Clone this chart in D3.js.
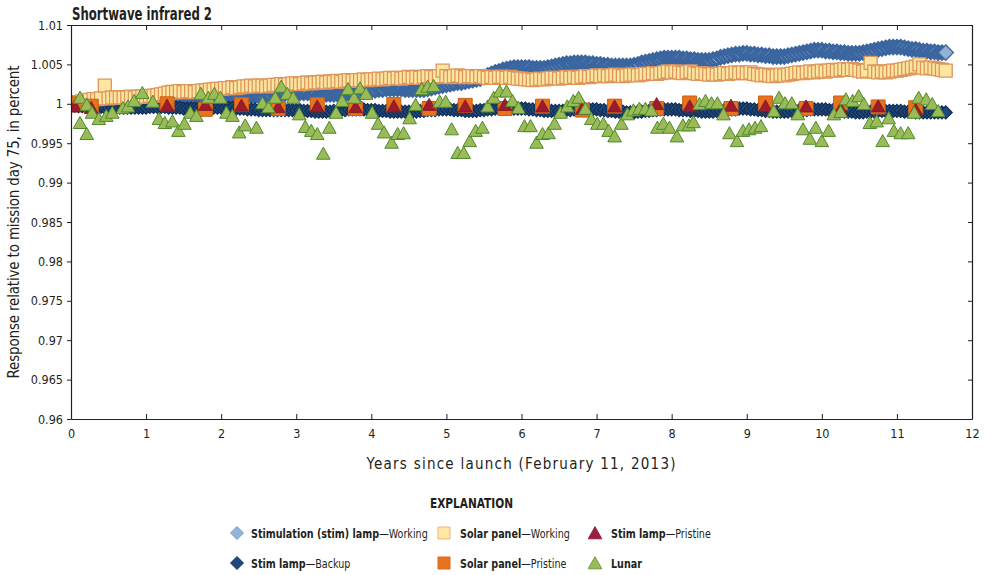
<!DOCTYPE html>
<html>
<head>
<meta charset="utf-8">
<script src="https://cdn.jsdelivr.net/npm/d3@7"></script>
<style>
body { margin: 0; background: #fff; }
text { font-family: 'DejaVu Sans Condensed', 'Liberation Sans', sans-serif; fill: #231f20; }
</style>
</head>
<body>
<script>
// chart values

const xTicks = [0, 1, 2, 3, 4, 5, 6, 7, 8, 9, 10, 11, 12]
const yTicks = [0.96, 0.965, 0.97, 0.975, 0.98, 0.985, 0.99, 0.995, 1, 1.005, 1.01]
const yTickLabels = ["0.96", "0.965", "0.97", "0.975", "0.98", "0.985", "0.99", "0.995", "1", "1.005", "1.01"]

// dense series are sampled every 0.05 year from launch
const denseYears = d3.range(234).map(i => +(i * 0.05).toFixed(2))

const stimWorking = [
    0.9999, 0.9999, 1.0000, 1.0000, 1.0001, 1.0001, 1.0002, 1.0002, 1.0002, 1.0003, 1.0003, 1.0003, 1.0004, 1.0004, 1.0004, 1.0005, 1.0005, 1.0005, 1.0005, 1.0006,
    1.0006, 1.0006, 1.0006, 1.0007, 1.0007, 1.0007, 1.0007, 1.0007, 1.0007, 1.0008, 1.0008, 1.0008, 1.0008, 1.0008, 1.0008, 1.0008, 1.0009, 1.0009, 1.0009, 1.0009,
    1.0009, 1.0009, 1.0009, 1.0009, 1.0009, 1.0009, 1.0010, 1.0010, 1.0010, 1.0010, 1.0010, 1.0010, 1.0011, 1.0011, 1.0012, 1.0012, 1.0013, 1.0013, 1.0014, 1.0014,
    1.0014, 1.0014, 1.0014, 1.0014, 1.0013, 1.0013, 1.0012, 1.0012, 1.0012, 1.0012, 1.0012, 1.0012, 1.0012, 1.0012, 1.0013, 1.0013, 1.0014, 1.0014, 1.0015, 1.0016,
    1.0017, 1.0017, 1.0018, 1.0018, 1.0019, 1.0019, 1.0019, 1.0019, 1.0019, 1.0018, 1.0018, 1.0018, 1.0018, 1.0018, 1.0018, 1.0019, 1.0020, 1.0021, 1.0022, 1.0023,
    1.0024, 1.0025, 1.0026, 1.0027, 1.0027, 1.0028, 1.0029, 1.0030, 1.0031, 1.0032, 1.0034, 1.0036, 1.0038, 1.0040, 1.0041, 1.0043, 1.0044, 1.0045, 1.0046, 1.0046,
    1.0046, 1.0046, 1.0046, 1.0045, 1.0045, 1.0045, 1.0045, 1.0046, 1.0047, 1.0048, 1.0049, 1.0050, 1.0051, 1.0051, 1.0052, 1.0052, 1.0052, 1.0052, 1.0051, 1.0051,
    1.0050, 1.0050, 1.0049, 1.0049, 1.0048, 1.0048, 1.0048, 1.0048, 1.0048, 1.0048, 1.0049, 1.0050, 1.0052, 1.0053, 1.0054, 1.0055, 1.0056, 1.0057, 1.0058, 1.0058,
    1.0058, 1.0058, 1.0058, 1.0057, 1.0057, 1.0056, 1.0056, 1.0055, 1.0055, 1.0055, 1.0055, 1.0056, 1.0057, 1.0059, 1.0060, 1.0061, 1.0062, 1.0063, 1.0063, 1.0064,
    1.0064, 1.0063, 1.0063, 1.0062, 1.0062, 1.0061, 1.0061, 1.0060, 1.0060, 1.0060, 1.0060, 1.0061, 1.0062, 1.0063, 1.0064, 1.0065, 1.0066, 1.0067, 1.0068, 1.0068,
    1.0068, 1.0067, 1.0067, 1.0066, 1.0066, 1.0065, 1.0065, 1.0064, 1.0064, 1.0064, 1.0064, 1.0065, 1.0066, 1.0067, 1.0068, 1.0069, 1.0070, 1.0071, 1.0072, 1.0072,
    1.0072, 1.0072, 1.0071, 1.0070, 1.0069, 1.0069, 1.0068, 1.0067, 1.0067, 1.0066, 1.0066, 1.0065, 1.0065, 1.0065
]

const stimBackup = [
    0.9998, 0.9998, 0.9997, 0.9997, 0.9997, 0.9996, 0.9996, 0.9996, 0.9996, 0.9995, 0.9995, 0.9995, 0.9995, 0.9995, 0.9995, 0.9995, 0.9995, 0.9995, 0.9995, 0.9995,
    0.9995, 0.9996, 0.9996, 0.9996, 0.9996, 0.9996, 0.9995, 0.9995, 0.9995, 0.9995, 0.9994, 0.9994, 0.9994, 0.9994, 0.9994, 0.9994, 0.9994, 0.9995, 0.9995, 0.9995,
    0.9995, 0.9995, 0.9995, 0.9995, 0.9994, 0.9994, 0.9994, 0.9993, 0.9993, 0.9993, 0.9992, 0.9992, 0.9992, 0.9992, 0.9992, 0.9992, 0.9992, 0.9992, 0.9992, 0.9992,
    0.9992, 0.9992, 0.9991, 0.9991, 0.9991, 0.9990, 0.9990, 0.9990, 0.9990, 0.9990, 0.9991, 0.9991, 0.9992, 0.9992, 0.9993, 0.9993, 0.9993, 0.9993, 0.9993, 0.9992,
    0.9992, 0.9992, 0.9991, 0.9991, 0.9991, 0.9990, 0.9990, 0.9990, 0.9990, 0.9990, 0.9990, 0.9990, 0.9990, 0.9991, 0.9991, 0.9992, 0.9992, 0.9992, 0.9993, 0.9993,
    0.9993, 0.9993, 0.9992, 0.9992, 0.9992, 0.9991, 0.9991, 0.9991, 0.9991, 0.9992, 0.9992, 0.9993, 0.9993, 0.9994, 0.9994, 0.9994, 0.9994, 0.9994, 0.9994, 0.9994,
    0.9994, 0.9994, 0.9993, 0.9993, 0.9992, 0.9992, 0.9991, 0.9991, 0.9991, 0.9991, 0.9991, 0.9991, 0.9992, 0.9992, 0.9993, 0.9993, 0.9993, 0.9993, 0.9993, 0.9993,
    0.9993, 0.9992, 0.9992, 0.9991, 0.9991, 0.9990, 0.9990, 0.9990, 0.9989, 0.9989, 0.9989, 0.9990, 0.9990, 0.9991, 0.9991, 0.9992, 0.9992, 0.9993, 0.9993, 0.9993,
    0.9993, 0.9993, 0.9992, 0.9992, 0.9992, 0.9991, 0.9991, 0.9991, 0.9990, 0.9990, 0.9990, 0.9990, 0.9991, 0.9991, 0.9992, 0.9992, 0.9993, 0.9993, 0.9994, 0.9994,
    0.9994, 0.9993, 0.9993, 0.9992, 0.9992, 0.9991, 0.9991, 0.9990, 0.9990, 0.9990, 0.9990, 0.9990, 0.9991, 0.9991, 0.9992, 0.9992, 0.9992, 0.9993, 0.9993, 0.9993,
    0.9993, 0.9993, 0.9992, 0.9992, 0.9991, 0.9991, 0.9990, 0.9990, 0.9990, 0.9989, 0.9989, 0.9989, 0.9990, 0.9990, 0.9990, 0.9991, 0.9991, 0.9991, 0.9991, 0.9991,
    0.9991, 0.9991, 0.9990, 0.9990, 0.9990, 0.9989, 0.9989, 0.9989, 0.9989, 0.9989, 0.9989, 0.9989, 0.9989, 0.9989
]

const solarWorking = [
    0.9998, 1.0000, 1.0002, 1.0003, 1.0004, 1.0005, 1.0006, 1.0006, 1.0007, 1.0023, 1.0007, 1.0008, 1.0008, 1.0008, 1.0008, 1.0008, 1.0009, 1.0008, 1.0009, 1.0009,
    1.0009, 1.0010, 1.0010, 1.0011, 1.0012, 1.0013, 1.0014, 1.0015, 1.0015, 1.0016, 1.0015, 1.0016, 1.0016, 1.0015, 1.0016, 1.0017, 1.0017, 1.0018, 1.0018, 1.0019,
    1.0019, 1.0020, 1.0020, 1.0021, 1.0020, 1.0021, 1.0022, 1.0022, 1.0023, 1.0022, 1.0023, 1.0023, 1.0022, 1.0023, 1.0024, 1.0024, 1.0025, 1.0024, 1.0025, 1.0026,
    1.0026, 1.0025, 1.0026, 1.0027, 1.0026, 1.0027, 1.0027, 1.0028, 1.0027, 1.0028, 1.0028, 1.0029, 1.0028, 1.0029, 1.0030, 1.0029, 1.0030, 1.0030, 1.0031, 1.0030,
    1.0031, 1.0031, 1.0032, 1.0031, 1.0032, 1.0033, 1.0032, 1.0033, 1.0032, 1.0033, 1.0034, 1.0033, 1.0034, 1.0033, 1.0034, 1.0035, 1.0034, 1.0034, 1.0035, 1.0042,
    1.0035, 1.0034, 1.0035, 1.0036, 1.0035, 1.0034, 1.0035, 1.0035, 1.0034, 1.0035, 1.0034, 1.0033, 1.0034, 1.0033, 1.0034, 1.0034, 1.0033, 1.0034, 1.0033, 1.0032,
    1.0032, 1.0031, 1.0031, 1.0030, 1.0031, 1.0032, 1.0031, 1.0032, 1.0033, 1.0033, 1.0032, 1.0033, 1.0034, 1.0033, 1.0034, 1.0033, 1.0034, 1.0035, 1.0034, 1.0035,
    1.0036, 1.0035, 1.0036, 1.0035, 1.0036, 1.0037, 1.0036, 1.0035, 1.0036, 1.0037, 1.0037, 1.0036, 1.0037, 1.0038, 1.0038, 1.0039, 1.0038, 1.0039, 1.0040, 1.0041,
    1.0040, 1.0041, 1.0040, 1.0039, 1.0040, 1.0041, 1.0039, 1.0038, 1.0039, 1.0038, 1.0037, 1.0038, 1.0037, 1.0038, 1.0039, 1.0038, 1.0039, 1.0040, 1.0039, 1.0040,
    1.0039, 1.0040, 1.0038, 1.0037, 1.0036, 1.0037, 1.0036, 1.0035, 1.0036, 1.0037, 1.0036, 1.0037, 1.0038, 1.0039, 1.0040, 1.0039, 1.0040, 1.0041, 1.0040, 1.0041,
    1.0042, 1.0041, 1.0042, 1.0043, 1.0042, 1.0043, 1.0044, 1.0043, 1.0044, 1.0043, 1.0042, 1.0041, 1.0042, 1.0052, 1.0041, 1.0040, 1.0041, 1.0040, 1.0041, 1.0042,
    1.0042, 1.0043, 1.0044, 1.0045, 1.0046, 1.0047, 1.0050, 1.0046, 1.0045, 1.0046, 1.0045, 1.0044, 1.0043, 1.0042
]

const solarPristineYears = [0.05, 0.27, 1.28, 1.79, 2.27, 2.76, 3.28, 3.79, 4.30, 4.77, 5.25, 5.78, 6.28, 6.81, 7.24, 7.80, 8.24, 8.79, 9.25, 9.79, 10.25, 10.75, 11.25]
const solarPristine = [1.0000, 0.9997, 1.0000, 0.9993, 0.9999, 0.9994, 0.9999, 0.9994, 0.9999, 0.9994, 0.9998, 0.9994, 0.9997, 0.9992, 0.9997, 0.9994, 1.0001, 0.9994, 1.0001, 0.9994, 1.0001, 0.9996, 0.9995]

const stimPristineYears = [0.05, 0.27, 1.28, 1.79, 2.27, 2.76, 3.28, 3.79, 4.30, 4.77, 5.25, 5.78, 6.28, 6.81, 7.24, 7.80, 8.24, 8.79, 9.25, 9.79, 10.25, 10.75, 11.25]
const stimPristine = [0.9997, 0.9995, 0.9998, 0.9999, 0.9998, 0.9996, 0.9997, 0.9996, 0.9997, 0.9999, 0.9997, 0.9999, 0.9997, 0.9994, 0.9997, 1.0000, 0.9997, 0.9998, 0.9997, 0.9997, 0.9994, 0.9997, 0.9993]

const lunarYears = [
    0.12, 0.21, 0.12, 0.21, 0.28, 0.37, 0.47, 0.55, 0.69, 0.76, 0.84, 0.95, 1.09, 1.17, 1.25, 1.35, 1.43, 1.51, 1.59, 1.67,
    1.73, 1.83, 1.91, 1.99, 2.07, 2.15, 2.24, 2.32, 2.47, 2.55, 2.63, 2.72, 2.80, 2.88, 2.96, 3.04, 3.12, 3.20, 3.28, 3.36,
    3.44, 3.53, 3.61, 3.69, 3.77, 3.85, 3.93, 4.01, 4.09, 4.17, 4.27, 4.35, 4.43, 4.51, 4.59, 4.67, 4.75, 4.83, 4.91, 4.99,
    5.07, 5.15, 5.23, 5.31, 5.39, 5.48, 5.55, 5.63, 5.71, 5.80, 5.88, 5.96, 6.04, 6.12, 6.20, 6.28, 6.36, 6.44, 6.52, 6.61,
    6.69, 6.76, 6.85, 6.93, 7.01, 7.09, 7.16, 7.24, 7.33, 7.41, 7.49, 7.57, 7.65, 7.73, 7.81, 7.89, 7.97, 8.07, 8.15, 8.23,
    8.29, 8.37, 8.45, 8.53, 8.61, 8.69, 8.77, 8.87, 8.95, 9.03, 9.11, 9.19, 9.36, 9.43, 9.51, 9.60, 9.68, 9.75, 9.84, 9.92,
    10.00, 10.09, 10.16, 10.25, 10.32, 10.41, 10.49, 10.56, 10.64, 10.73, 10.81, 10.89, 10.96, 11.05, 11.15, 11.23, 11.29, 11.39, 11.47, 11.55
]
const lunar = [
    1.0008, 0.9999, 0.9976, 0.9962, 0.9989, 0.9981, 0.9985, 0.9989, 0.9995, 0.9997, 1.0004, 1.0014, 1.0003, 0.9981, 0.9976, 0.9978, 0.9966, 0.9975, 0.9989, 0.9985,
    1.0013, 1.0008, 1.0013, 1.0008, 0.9989, 0.9985, 0.9964, 0.9973, 0.9970, 1.0001, 0.9996, 1.0008, 1.0022, 1.0013, 1.0008, 0.9987, 0.9971, 0.9966, 0.9962, 0.9937,
    0.9970, 0.9989, 1.0004, 1.0019, 1.0008, 1.0020, 1.0013, 0.9989, 0.9975, 0.9964, 0.9951, 0.9962, 0.9963, 0.9982, 0.9999, 1.0019, 1.0022, 1.0023, 1.0003, 1.0003,
    0.9968, 0.9938, 0.9938, 0.9953, 0.9966, 0.9970, 0.9997, 1.0008, 1.0016, 1.0016, 1.0004, 0.9995, 0.9972, 0.9972, 0.9951, 0.9962, 0.9963, 0.9975, 0.9989, 0.9997,
    1.0004, 1.0008, 0.9994, 0.9981, 0.9975, 0.9975, 0.9966, 0.9959, 0.9975, 0.9987, 0.9992, 0.9994, 0.9994, 0.9992, 0.9970, 0.9975, 0.9970, 0.9959, 0.9973, 0.9973,
    0.9977, 1.0000, 1.0004, 1.0001, 1.0001, 0.9987, 0.9963, 0.9953, 0.9966, 0.9968, 0.9970, 0.9972, 0.9991, 1.0008, 1.0001, 1.0001, 0.9987, 0.9968, 0.9956, 0.9970,
    0.9953, 0.9966, 0.9987, 0.9990, 1.0006, 1.0004, 1.0010, 1.0000, 0.9976, 0.9978, 0.9953, 0.9982, 0.9966, 0.9963, 0.9963, 0.9989, 1.0008, 1.0006, 1.0000, 0.9991
]


const width = 988
const height = 575
const plot = {left: 71, right: 972, top: 25, bottom: 419}

const x = d3.scaleLinear().domain([0, 12]).range([plot.left, plot.right])
const y = d3.scaleLinear().domain([0.96, 1.01]).range([plot.bottom, plot.top])

const diamond = "M0,-6.5L6.5,0L0,6.5L-6.5,0Z"
const square = s => `M${-s},${-s}h${2 * s}v${2 * s}h${-2 * s}Z`
const triangle = "M0,-6.3L6.8,5.8L-6.8,5.8Z"

const svg = d3.select("body").append("svg")
    .attr("width", width)
    .attr("height", height)

svg.append("defs").append("clipPath")
    .attr("id", "plotclip")
    .append("rect")
    .attr("x", plot.left)
    .attr("y", plot.top)
    .attr("width", plot.right - plot.left)
    .attr("height", plot.bottom - plot.top)

const marks = svg.append("g").attr("clip-path", "url(#plotclip)")

function drawSeries(years, values, shape, fill, stroke, sw) {
    marks.append("g")
        .attr("fill", fill)
        .attr("stroke", stroke)
        .attr("stroke-width", sw)
        .selectAll("path")
        .data(values)
        .join("path")
        .attr("d", shape)
        .attr("transform", (d, i) => `translate(${x(years[i])},${y(d)})`)
}

drawSeries(denseYears, stimWorking, diamond, "#95b3d7", "#3a659f", 3)
drawSeries(denseYears, stimBackup, diamond, "#1f497d", "#112c52", 1.2)
drawSeries(denseYears, solarWorking, square(6.5), "#fde7a0", "#de955d", 1.3)
drawSeries(solarPristineYears, solarPristine, square(7), "#e8731e", "#cf5f12", 1)
drawSeries(stimPristineYears, stimPristine, triangle, "#9b1c2c", "#7e1522", 0.8)
drawSeries(lunarYears, lunar, triangle, "#9bbb59", "#4f8a2b", 1)

// the last working-lamp marker sits on top of the band, as in the original
marks.append("path")
    .attr("d", diamond)
    .attr("transform", `translate(${x(denseYears[stimWorking.length - 1])},${y(stimWorking[stimWorking.length - 1])})`)
    .attr("fill", "#95b3d7")
    .attr("stroke", "#7b9cc8")

// axes
const axisColor = "#231f20"

const gx = svg.append("g")
    .attr("transform", `translate(0,${plot.bottom})`)
    .call(d3.axisBottom(x).tickValues(xTicks).tickSize(-5).tickSizeOuter(0).tickPadding(10).tickFormat(d3.format("d")))

const gxTop = svg.append("g")
    .attr("transform", `translate(0,${plot.top})`)
    .call(d3.axisTop(x).tickValues(xTicks).tickSize(-5).tickSizeOuter(0).tickFormat(""))

const gy = svg.append("g")
    .attr("transform", `translate(${plot.left},0)`)
    .call(d3.axisLeft(y).tickValues(yTicks).tickSize(4).tickSizeOuter(0).tickPadding(4)
        .tickFormat((d, i) => yTickLabels[i]))

const gyRight = svg.append("g")
    .attr("transform", `translate(${plot.right},0)`)
    .call(d3.axisRight(y).tickValues(yTicks).tickSize(-4).tickSizeOuter(0).tickFormat(""))

for (const g of [gx, gxTop, gy, gyRight]) {
    g.selectAll(".domain").attr("stroke", axisColor).attr("stroke-width", 1.2)
    g.selectAll(".tick line").attr("stroke", axisColor)
    g.selectAll(".tick text")
        .attr("font-family", "'DejaVu Sans Condensed', sans-serif")
        .attr("font-size", 12.5)
        .attr("fill", axisColor)
}

// titles
svg.append("text")
    .attr("x", 72)
    .attr("y", 20)
    .attr("font-family", "'Liberation Sans', sans-serif")
    .attr("font-size", 17)
    .attr("font-weight", "bold")
    .attr("textLength", 140)
    .attr("lengthAdjust", "spacingAndGlyphs")
    .text("Shortwave infrared 2")

svg.append("text")
    .attr("x", 521)
    .attr("y", 469)
    .attr("text-anchor", "middle")
    .attr("font-size", 15)
    .attr("textLength", 309)
    .attr("lengthAdjust", "spacing")
    .text("Years since launch (February 11, 2013)")

svg.append("text")
    .attr("transform", "translate(19,222) rotate(-90)")
    .attr("text-anchor", "middle")
    .attr("font-size", 15)
    .attr("textLength", 313)
    .attr("lengthAdjust", "spacing")
    .text("Response relative to mission day 75, in percent")

// legend
svg.append("text")
    .attr("x", 471.5)
    .attr("y", 508)
    .attr("text-anchor", "middle")
    .attr("font-family", "'Liberation Sans', sans-serif")
    .attr("font-size", 14)
    .attr("font-weight", "bold")
    .attr("textLength", 83)
    .attr("lengthAdjust", "spacingAndGlyphs")
    .text("EXPLANATION")

const legendItems = [
    {bold: "Stimulation (stim) lamp", rest: "\u2014Working", shape: diamond, fill: "#95b3d7", stroke: "#7b9cc8"},
    {bold: "Stim lamp", rest: "\u2014Backup", shape: diamond, fill: "#1f497d", stroke: "#17375e"},
    {bold: "Solar panel", rest: "\u2014Working", shape: square(6), fill: "#fde9a4", stroke: "#f1b183"},
    {bold: "Solar panel", rest: "\u2014Pristine", shape: square(6), fill: "#e8731e", stroke: "#e0661a"},
    {bold: "Stim lamp", rest: "\u2014Pristine", shape: triangle, fill: "#952040", stroke: "#952040"},
    {bold: "Lunar", rest: "", shape: triangle, fill: "#9bbb59", stroke: "#6f9c3f"}
]
// legend layout: marker centre and text start of each entry
const legendMarkerX = [237, 237, 444, 444, 595, 595]
const legendTextX = [251, 251, 460, 460, 611, 611]
const legendRowY = [533, 563, 533, 563, 533, 563]

const leg = svg.append("g")
    .selectAll("g")
    .data(legendItems)
    .join("g")

leg.append("path")
    .attr("d", d => d.shape)
    .attr("transform", (d, i) => `translate(${legendMarkerX[i]},${legendRowY[i]})`)
    .attr("fill", d => d.fill)
    .attr("stroke", d => d.stroke)
    .attr("stroke-width", 1)

// the original uses a condensed face, so the labels are squeezed horizontally
const lt = leg.append("text")
    .attr("transform", (d, i) => `translate(${legendTextX[i]},${legendRowY[i] + 4.5}) scale(0.82,1)`)
    .attr("font-family", "'Liberation Sans', sans-serif")
    .attr("font-size", 13)

lt.append("tspan").attr("font-weight", "bold").text(d => d.bold)
lt.append("tspan").text(d => d.rest)
</script>
</body>
</html>
